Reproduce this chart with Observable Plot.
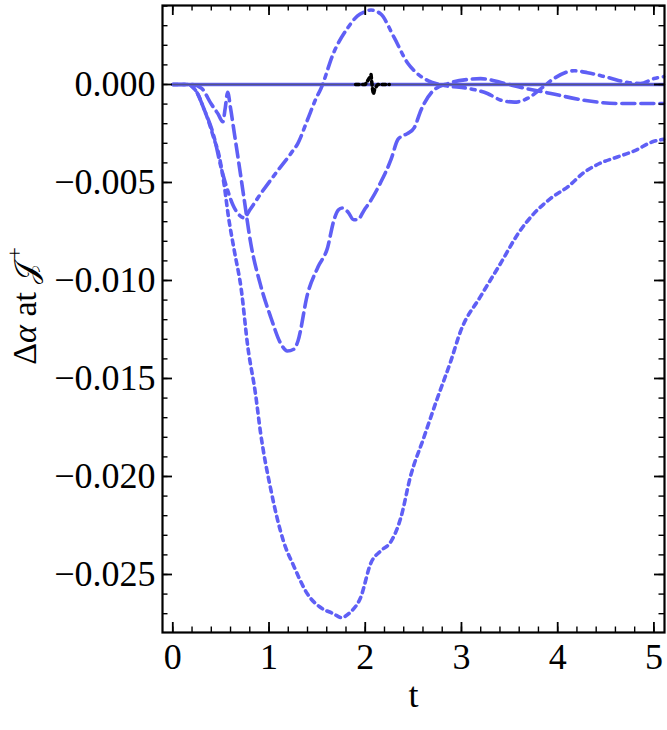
<!DOCTYPE html>
<html><head><meta charset="utf-8">
<script src="https://cdn.jsdelivr.net/npm/d3@7"></script>
<script src="https://cdn.jsdelivr.net/npm/@observablehq/plot@0.6"></script>
<style>body{margin:0;background:#fff} svg{display:block}</style>
</head><body><div id="chart"></div>
<script>
// ---- data ----
const tDotted = [0, 0.15, 0.25, 0.32, 0.38, 0.43, 0.47, 0.53, 0.58, 0.64, 0.71, 0.78, 0.86, 0.91, 1.02, 1.15, 1.26, 1.40, 1.54, 1.67, 1.75, 1.85, 1.95, 2.06, 2.16, 2.27, 2.37, 2.47, 2.61, 2.75, 2.89, 2.99, 3.2, 3.41, 3.59, 3.75, 3.93, 4.11, 4.27, 4.45, 4.62, 4.79, 5.0, 5.1];
const vDotted = [0, 0, -0.0004, -0.0012, -0.0020, -0.0028, -0.0034, -0.0050, -0.0068, -0.0085, -0.0104, -0.0134, -0.0158, -0.0177, -0.0207, -0.0233, -0.0246, -0.0260, -0.0267, -0.0270, -0.0272, -0.0269, -0.0262, -0.0244, -0.0238, -0.0233, -0.0221, -0.0200, -0.0180, -0.0160, -0.0141, -0.0126, -0.0108, -0.0091, -0.0076, -0.0066, -0.0058, -0.0052, -0.0045, -0.0040, -0.0037, -0.0034, -0.0029, -0.0028];

const tDashed = [0, 0.2, 0.3, 0.40, 0.47, 0.52, 0.545, 0.57, 0.60, 0.64, 0.68, 0.74, 0.81, 0.91, 1.02, 1.12, 1.19, 1.26, 1.30, 1.40, 1.51, 1.61, 1.67, 1.72, 1.76, 1.82, 1.88, 1.92, 1.99, 2.06, 2.16, 2.27, 2.34, 2.40, 2.44, 2.51, 2.58, 2.71, 2.86, 3.07, 3.2, 3.41, 3.62, 3.93, 4.27, 4.62, 4.97, 5.1];
const vDashed = [0, 0, -0.0002, -0.0010, -0.0015, -0.0019, -0.0012, -0.0004, -0.0012, -0.0025, -0.0038, -0.0058, -0.0081, -0.0102, -0.0119, -0.0132, -0.0136, -0.0135, -0.0131, -0.0107, -0.0093, -0.0083, -0.0070, -0.0064, -0.0063, -0.0065, -0.0069, -0.0069, -0.0064, -0.0059, -0.0050, -0.0038, -0.0028, -0.0026, -0.0025, -0.0022, -0.0013, -0.0003, 0.00005, 0.00026, 0.0003, 0.0001, -0.00015, -0.00046, -0.0008, -0.00097, -0.00097, -0.00097];

const tDashDot = [0, 0.15, 0.25, 0.32, 0.43, 0.50, 0.57, 0.63, 0.68, 0.74, 0.80, 0.91, 1.09, 1.23, 1.30, 1.40, 1.49, 1.54, 1.67, 1.82, 1.92, 1.99, 2.06, 2.16, 2.30, 2.44, 2.51, 2.65, 2.82, 3.07, 3.27, 3.41, 3.55, 3.69, 3.83, 3.96, 4.17, 4.31, 4.52, 4.73, 4.86, 5.0, 5.1];
const vDashDot = [0, 0, -0.0004, -0.0012, -0.0027, -0.0042, -0.0054, -0.0062, -0.0066, -0.0068, -0.0064, -0.0056, -0.0044, -0.0035, -0.0030, -0.0018, -0.0007, -0.0002, 0.0016, 0.0029, 0.0035, 0.0037, 0.0038, 0.0036, 0.0024, 0.0011, 0.0007, 0.0002, -0.00005, -0.0002, -0.00046, -0.0008, -0.0009, -0.0007, -0.0002, 0.0003, 0.0007, 0.0006, 0.00036, 0.0001, 0.00005, 0.0003, 0.0004];

const tSolid = [0, 5.1];
const vSolid = [0, 0];

const tBlack = [1.9, 2.0, 2.04, 2.06, 2.075, 2.085, 2.10, 2.13, 2.25];
const vBlack = [0, 0, 0.0003, 0.0005, -0.0002, -0.0005, -0.0002, 0, 0];

const xTickLabels = [0, 1, 2, 3, 4, 5];
const yTickLabels = [0, -0.005, -0.010, -0.015, -0.020, -0.025];

// ---- helpers ----
const zip = (t, v) => t.map((d, i) => ({t: d, v: v[i]}));
const xMinor = d3.range(0, 5.11, 0.2).map(d => +d.toFixed(2));
const yMinor = d3.range(-27, 5, 1).map(d => d / 1000);

const W = 667, H = 730;
const ml = 162, mr = 3, mt = 5, mb = 98;
const fw = W - ml - mr, fh = H - mt - mb;
const blue = "#5f5ff5";
const lw = 3.6;
const fs = 36;

const chart = Plot.plot({
  width: W, height: H,
  marginLeft: ml, marginRight: mr, marginTop: mt, marginBottom: mb,
  x: {domain: [-0.107, 5.11]},
  y: {domain: [-0.02796, 0.00403]},
  style: {fontFamily: "'Liberation Serif', serif", fontSize: fs + "px", background: "white", color: "black"},
  marks: [
    Plot.line(zip(tDotted, vDotted), {x: "t", y: "v", stroke: blue, strokeWidth: lw, strokeDasharray: "5,5", curve: "monotone-x"}),
    Plot.line(zip(tDashed, vDashed), {x: "t", y: "v", stroke: blue, strokeWidth: lw, strokeDasharray: "13,6", curve: "monotone-x"}),
    Plot.line(zip(tDashDot, vDashDot), {x: "t", y: "v", stroke: blue, strokeWidth: lw, strokeDasharray: "12,6,4,6", curve: "monotone-x"}),
    Plot.line(zip(tSolid, vSolid), {x: "t", y: "v", stroke: blue, strokeWidth: 3.6}),
    Plot.line(zip(tSolid, vSolid), {x: "t", y: "v", stroke: "#505060", strokeWidth: 1.6, strokeOpacity: 0.75}),
    Plot.line(zip(tBlack, vBlack), {x: "t", y: "v", stroke: "black", strokeWidth: lw, strokeDasharray: "3.5,3.5"}),
    Plot.frame({stroke: "black", strokeWidth: 2.2}),
    // inward ticks, all four sides
    Plot.tickX(xTickLabels, {x: d => d, insetTop: fh - 10, stroke: "black", strokeWidth: 1.8}),
    Plot.tickX(xTickLabels, {x: d => d, insetBottom: fh - 10, stroke: "black", strokeWidth: 1.8}),
    Plot.tickX(xMinor, {x: d => d, insetTop: fh - 5.5, stroke: "black", strokeWidth: 1.4}),
    Plot.tickX(xMinor, {x: d => d, insetBottom: fh - 5.5, stroke: "black", strokeWidth: 1.4}),
    Plot.tickY(yTickLabels, {y: d => d, insetRight: fw - 10, stroke: "black", strokeWidth: 1.8}),
    Plot.tickY(yTickLabels, {y: d => d, insetLeft: fw - 10, stroke: "black", strokeWidth: 1.8}),
    Plot.tickY(yMinor, {y: d => d, insetRight: fw - 5.5, stroke: "black", strokeWidth: 1.4}),
    Plot.tickY(yMinor, {y: d => d, insetLeft: fw - 5.5, stroke: "black", strokeWidth: 1.4}),
    Plot.axisX(xTickLabels, {tickSize: 0, tickPadding: 11, fontSize: fs, label: null}),
    Plot.axisY(yTickLabels, {tickSize: 0, tickPadding: 7, fontSize: fs, tickFormat: d3.format(".3f"), label: null}),
    Plot.text(["t"], {frameAnchor: "bottom", text: d => d, dy: 74, fontSize: fs})
  ]
});

// y-axis label with mixed styling
const svg = d3.select(chart);
const lab = svg.append("text")
  .attr("transform", "translate(36,306) rotate(-90)")
  .attr("text-anchor", "middle")
  .attr("font-family", "'Liberation Serif', serif")
  .attr("font-size", 34)
  .attr("fill", "black");
lab.append("tspan").text("Δ");
lab.append("tspan").attr("font-style", "italic").text("α");
lab.append("tspan").text(" at ");
lab.append("tspan").attr("font-size", 31).text("𝒥");
lab.append("tspan").attr("font-size", 22).attr("dx", 3).attr("dy", -14).text("+");

document.getElementById("chart").append(chart);
</script>
</body></html>
